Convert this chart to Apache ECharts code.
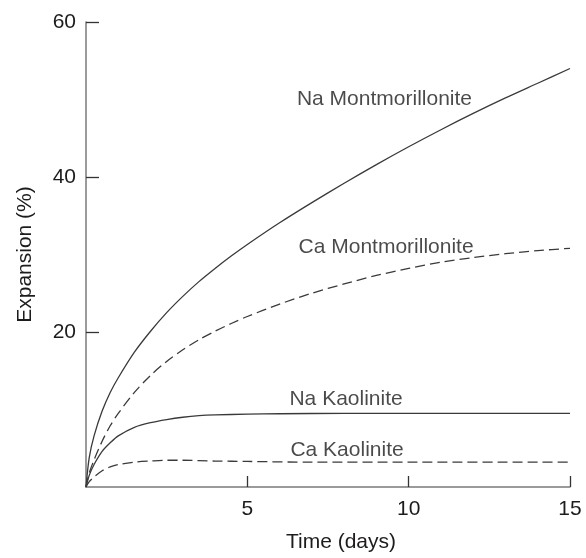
<!DOCTYPE html>
<html>
<head>
<meta charset="utf-8">
<script src="https://cdn.jsdelivr.net/npm/echarts@6/dist/echarts.min.js"></script>
<style>
html,body{margin:0;padding:0;background:#fff;}
#chart{width:586px;height:558px;}
</style>
</head>
<body>
<div id="chart"></div>
<script>
// Data (time in days, expansion in %)
var naMontX = [0, 0.1, 0.25, 0.5, 0.75, 1, 1.5, 2, 2.5, 3, 3.5, 4, 4.5, 5, 6, 7, 8, 9, 10, 11, 12, 13, 14, 15];
var naMontY = [0, 3.8, 6.6, 9.8, 12.2, 14.1, 17.4, 20.1, 22.5, 24.6, 26.5, 28.2, 29.8, 31.3, 34.1, 36.7, 39.2, 41.6, 43.9, 46.1, 48.2, 50.2, 52.1, 54];

var caMontX = [0, 0.1, 0.25, 0.5, 0.75, 1, 1.5, 2, 2.5, 3, 3.5, 4, 4.5, 5, 6, 7, 8, 9, 10, 11, 12, 13, 14, 15];
var caMontY = [0, 1.8, 3.5, 5.9, 7.9, 9.5, 12.2, 14.4, 16.2, 17.7, 19.0, 20.1, 21.1, 22.0, 23.6, 25.0, 26.2, 27.3, 28.2, 29.0, 29.6, 30.1, 30.5, 30.8];

var naKaolX = [0, 0.1, 0.25, 0.5, 0.75, 1, 1.5, 2, 2.5, 3, 3.5, 4, 5, 6, 8, 10, 12, 15];
var naKaolY = [0, 1.5, 2.9, 4.6, 5.7, 6.6, 7.7, 8.3, 8.7, 9.0, 9.2, 9.3, 9.4, 9.45, 9.5, 9.5, 9.5, 9.5];

var caKaolX = [0, 0.1, 0.25, 0.5, 0.75, 1, 1.5, 2, 2.5, 3, 4, 5, 7, 10, 15];
var caKaolY = [0, 0.7, 1.3, 2.1, 2.6, 2.9, 3.2, 3.35, 3.45, 3.45, 3.35, 3.3, 3.2, 3.2, 3.2];

var seriesNames = ['Na Montmorillonite', 'Ca Montmorillonite', 'Na Kaolinite', 'Ca Kaolinite'];
// label anchor points in data coordinates [days, %]
var labelX = [9.25, 9.30, 8.06, 8.09];
var labelY = [50.0, 30.9, 11.35, 4.7];

var xTicks = [5, 10, 15];
var yTicks = [20, 40, 60];

function zip(xs, ys) { return xs.map(function (x, i) { return [x, ys[i]]; }); }

var FONT = '"Liberation Sans", Arial, Helvetica, sans-serif';
var TXT = '#1e1b1c';
var LINE = '#3a3a3a';

function lineSeries(name, xs, ys, dashed) {
  return {
    name: name, type: 'line', data: zip(xs, ys),
    showSymbol: false, symbol: 'none', smooth: 0.3,
    lineStyle: { color: LINE, width: 1.3, type: dashed ? [10, 5] : 'solid' },
    silent: true, z: 3
  };
}

var chart = echarts.init(document.getElementById('chart'), null, { renderer: 'canvas' });
chart.setOption({
  animation: false,
  backgroundColor: '#ffffff',
  grid: { left: 86, right: 16, top: 22, bottom: 60, containLabel: false },
  xAxis: {
    type: 'value', min: 0, max: 15, interval: 5,
    name: 'Time (days)', nameLocation: 'middle', nameGap: 45,
    nameTextStyle: { fontFamily: FONT, fontSize: 21, color: TXT, padding: [0, 0, 0, 26] },
    axisLine: { show: true, onZero: false, lineStyle: { color: '#7a7a7a', width: 1.5 } },
    axisTick: { show: true, inside: true, length: 11, lineStyle: { color: '#333', width: 1.3 },
      customValues: xTicks },
    axisLabel: { fontFamily: FONT, fontSize: 21, color: TXT, margin: 12,
      customValues: xTicks },
    splitLine: { show: false }
  },
  yAxis: {
    type: 'value', min: 0, max: 60, interval: 20,
    name: 'Expansion (%)', nameLocation: 'middle', nameGap: 50, nameRotate: 90,
    nameTextStyle: { fontFamily: FONT, fontSize: 21, color: TXT },
    axisLine: { show: true, onZero: false, lineStyle: { color: '#7a7a7a', width: 1.5 } },
    axisTick: { show: true, inside: true, length: 13, lineStyle: { color: '#333', width: 1.3 },
      customValues: yTicks },
    axisLabel: { fontFamily: FONT, fontSize: 21, color: TXT, margin: 10,
      customValues: yTicks },
    splitLine: { show: false }
  },
  series: [
    lineSeries(seriesNames[0], naMontX, naMontY, false),
    lineSeries(seriesNames[1], caMontX, caMontY, true),
    lineSeries(seriesNames[2], naKaolX, naKaolY, false),
    lineSeries(seriesNames[3], caKaolX, caKaolY, true),
    {
      type: 'scatter', silent: true, symbolSize: 1,
      itemStyle: { color: 'rgba(0,0,0,0)' },
      data: seriesNames.map(function (n, i) { return { name: n, value: [labelX[i], labelY[i]] }; }),
      label: { show: true, position: 'inside', formatter: '{b}',
        fontFamily: FONT, fontSize: 21, color: TXT },
      z: 5
    }
  ]
});
</script>
</body>
</html>
